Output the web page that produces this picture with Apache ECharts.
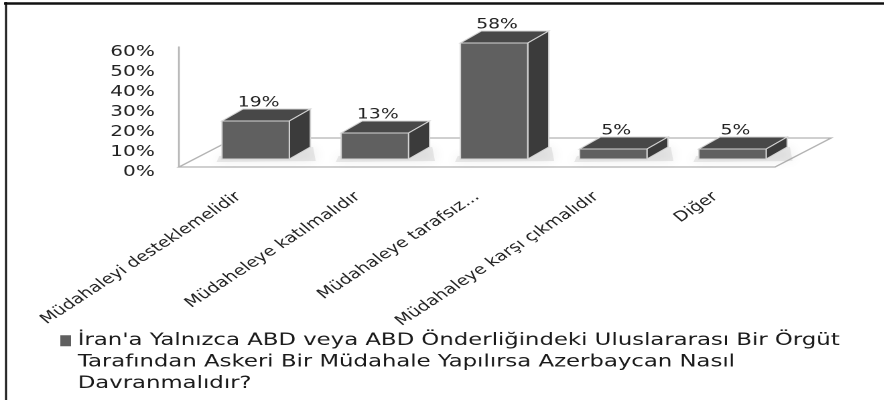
<!DOCTYPE html>
<html>
<head>
<meta charset="utf-8">
<script src="https://cdn.jsdelivr.net/npm/echarts@6/dist/echarts.min.js"></script>
<style>
  html, body { margin: 0; padding: 0; background: #fff; overflow: hidden; }
  /* kaynak görsel yatayda gerilmiş; aynı oranda geriyoruz */
  #chart { width: 660px; height: 400px; transform: scaleX(1.34); transform-origin: 0 0; }
</style>
</head>
<body>
<div id="chart"></div>
<script>
// veriler
const categories = [
  'Müdahaleyi desteklemelidir',
  'Müdaheleye katılmalıdır',
  'Müdahaleye tarafsız...',
  'Müdahaleye karşı çıkmalıdır',
  'Diğer'
];
const values = [19, 13, 58, 5, 5];
const seriesName = "İran'a Yalnızca ABD veya ABD Önderliğindeki Uluslararası Bir Örgüt\nTarafından Askeri Bir Müdahale Yapılırsa Azerbaycan Nasıl\nDavranmalıdır?";
const yMax = 60;
const yStep = 10;

// 3B görünüm ayarları (gerilmemiş koordinatlarda)
const SHIFT = [12.7, -8];    // sütunun ön yüzü, eksen düzlemine göre
const DEPTH = [15.7, -12];   // sütun derinliği
const FLOOR = [41.8, -29];   // zemin derinliği
const BAR_RATIO = 0.565;

const FONT = 'DejaVu Sans';

function renderBar(params, api) {
  const idx = api.value(0);
  const v = api.value(1);
  const top = api.coord([idx, v]);
  const base = api.coord([idx, 0]);
  const w = api.size([1, 0])[0] * BAR_RATIO;
  const cx = top[0] + SHIFT[0];
  const x0 = cx - w / 2, x1 = cx + w / 2;
  const yT = top[1] + SHIFT[1], yB = base[1] + SHIFT[1];
  const dx = DEPTH[0], dy = DEPTH[1];
  const edge = { stroke: '#d4d4d4', lineWidth: 1 };
  return {
    type: 'group',
    children: [
      {
        type: 'polygon',
        shape: { points: [[x0 - 2, yB - 3], [x1 + dx + 2, yB + dy], [x1 + dx + 4, yB + 2], [x0 - 4, yB + 3]] },
        style: { fill: 'rgba(170,170,170,0.25)', shadowBlur: 10, shadowColor: 'rgba(0,0,0,0.3)' }
      },
      {
        type: 'polygon',
        shape: { points: [[x0, yT], [x1, yT], [x1 + dx, yT + dy], [x0 + dx, yT + dy]] },
        style: Object.assign({ fill: '#484848' }, edge)
      },
      {
        type: 'polygon',
        shape: { points: [[x1, yT], [x1 + dx, yT + dy], [x1 + dx, yB + dy], [x1, yB]] },
        style: Object.assign({ fill: '#3b3b3b' }, edge)
      },
      {
        type: 'rect',
        shape: { x: x0, y: yT, width: w, height: yB - yT },
        style: Object.assign({ fill: '#606060' }, edge)
      },
      {
        type: 'text',
        x: cx + 2.2,
        y: yT + dy + 1,
        style: {
          text: v + '%',
          align: 'center',
          verticalAlign: 'bottom',
          fontFamily: FONT,
          fontSize: 14,
          fill: '#222'
        }
      }
    ]
  };
}

function renderFloor(params, api) {
  const cs = params.coordSys;
  const fl = cs.x, fr = cs.x + cs.width, fy = cs.y + cs.height;
  return {
    type: 'polygon',
    shape: {
      points: [[fl, fy], [fr, fy], [fr + FLOOR[0], fy + FLOOR[1]], [fl + FLOOR[0], fy + FLOOR[1]]]
    },
    style: { fill: '#fff', stroke: '#b3b3b3', lineWidth: 1.3 }
  };
}

const chart = echarts.init(document.getElementById('chart'), null, { devicePixelRatio: 2 });

chart.setOption({
  animation: false,
  grid: { left: 133.6, right: 81.6, top: 47, bottom: 233, outerBoundsMode: 'none' },
  xAxis: {
    type: 'category',
    data: categories,
    axisLine: { show: false },
    axisTick: { show: false },
    axisLabel: {
      rotate: 41,
      margin: 28,
      interval: 0,
      fontFamily: FONT,
      fontSize: 14,
      color: '#222'
    }
  },
  yAxis: {
    type: 'value',
    min: 0,
    max: yMax,
    interval: yStep,
    splitLine: { show: false },
    axisTick: { show: false },
    axisLine: { show: true, lineStyle: { color: '#b3b3b3', width: 1.3 } },
    axisLabel: {
      formatter: '{value}%',
      margin: 18,
      verticalAlign: 'top',
      lineHeight: 10,
      fontFamily: FONT,
      fontSize: 15,
      color: '#222'
    }
  },
  legend: {
    data: [seriesName],
    left: 45,
    top: 330,
    padding: 0,
    itemWidth: 8,
    itemHeight: 54,
    icon: 'path://M0,0L8,0L8,11L0,11ZM0,54L0,54',
    itemStyle: { borderWidth: 0 },
    textStyle: {
      fontFamily: FONT,
      fontSize: 17,
      lineHeight: 21.5,
      color: '#1a1a1a'
    },
    selectedMode: false
  },
  graphic: [
    { type: 'line', shape: { x1: 3, y1: 3.5, x2: 660, y2: 3.5 }, style: { stroke: '#111', lineWidth: 2.5 } },
    { type: 'line', shape: { x1: 4.5, y1: 2, x2: 4.5, y2: 400 }, style: { stroke: '#111', lineWidth: 1.5 } }
  ],
  series: [
    {
      name: 'zemin',
      type: 'custom',
      silent: true,
      z: 1,
      renderItem: renderFloor,
      data: [[0, 0]]
    },
    {
      name: seriesName,
      type: 'custom',
      z: 2,
      itemStyle: { color: '#5f5f5f' },
      renderItem: renderBar,
      data: values.map((v, i) => [i, v])
    }
  ]
});
</script>
</body>
</html>
